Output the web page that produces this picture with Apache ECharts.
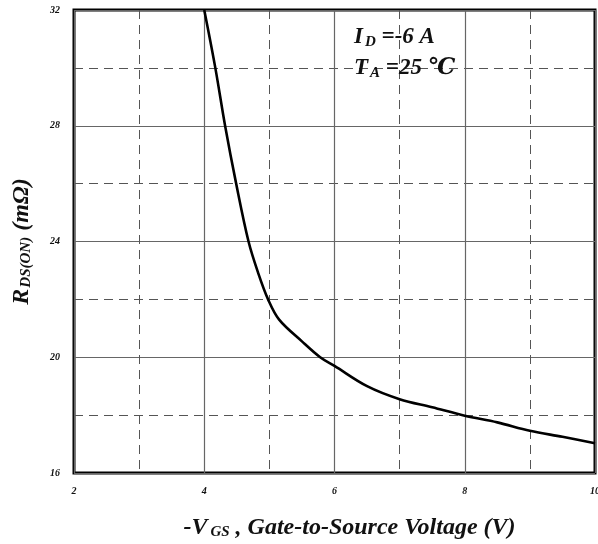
<!DOCTYPE html>
<html><head><meta charset="utf-8">
<script src="https://cdn.jsdelivr.net/npm/echarts@6/dist/echarts.min.js"></script>
<style>html,body{margin:0;padding:0;background:#fff}#c{width:598px;height:544px}</style>
</head><body><div id="c"></div>
<script>
// -V_GS (V)
const vgs = [4.0, 4.17, 4.32, 4.49, 4.68, 4.83, 4.98, 5.15, 5.5, 5.78, 6.0, 6.5, 7.0, 7.5, 8.0, 8.5, 9.0, 9.5, 10.0];
// R_DS(ON) (mΩ)
const rds = [32.0, 30.0, 28.0, 26.0, 24.0, 22.9, 22.0, 21.3, 20.55, 20.0, 19.7, 19.0, 18.55, 18.27, 17.98, 17.75, 17.46, 17.25, 17.03];
const xTicks = [2, 4, 6, 8, 10];
const yTicks = [16, 20, 24, 28, 32];

const FF = '"Liberation Serif","DejaVu Serif",serif';
const chart = echarts.init(document.getElementById('c'), null, {renderer: 'canvas'});
const tickLbl = {fontFamily: FF, fontStyle: 'italic', fontWeight: 'bold', fontSize: 10, color: '#111'};
const big = {fontFamily: FF, fontStyle: 'italic', fontWeight: 'bold', fontSize: 24, color: '#111'};
const sub = {fontFamily: FF, fontStyle: 'italic', fontWeight: 'bold', fontSize: 15, color: '#111'};
chart.setOption({
  animation: false,
  backgroundColor: '#fff',
  grid: {left: 74, top: 10, right: 3, bottom: 71, show: true, borderColor: '#000', borderWidth: 3,
         backgroundColor: 'transparent', outerBoundsMode: 'none', containLabel: false},
  xAxis: {
    type: 'value', min: xTicks[0], max: xTicks[xTicks.length - 1], interval: 2,
    axisLine: {show: false}, axisTick: {show: false},
    axisLabel: Object.assign({margin: 13}, tickLbl),
    splitLine: {show: true, lineStyle: {color: '#666', width: 1.2, type: 'solid'}},
    minorTick: {show: false, splitNumber: 2},
    minorSplitLine: {show: true, lineStyle: {color: '#555', width: 1, type: [9, 6]}},
    name: '{a|-V}{s|GS}{a| , Gate-to-Source Voltage (V)}',
    nameLocation: 'middle', nameGap: 42,
    nameTextStyle: {padding: [0, 0, 0, 30], rich: {a: big, s: Object.assign({padding: [10, 0, 0, 3]}, sub)}}
  },
  yAxis: {
    type: 'value', min: yTicks[0], max: yTicks[yTicks.length - 1], interval: 4,
    axisLine: {show: false}, axisTick: {show: false},
    axisLabel: Object.assign({margin: 14}, tickLbl),
    splitLine: {show: true, lineStyle: {color: '#666', width: 1.2, type: 'solid'}},
    minorTick: {show: false, splitNumber: 2},
    minorSplitLine: {show: true, lineStyle: {color: '#555', width: 1, type: [9, 6]}},
    name: '{a|R}{s|DS(ON)}{a| (m}{a|Ω}{a|)}',
    nameLocation: 'middle', nameGap: 40, nameRotate: 90,
    nameTextStyle: {rich: {a: big, s: Object.assign({padding: [10, 0, 0, 1]}, sub)}}
  },
  series: [{
    type: 'line', data: vgs.map((v, i) => [v, rds[i]]),
    smooth: 0.35, showSymbol: false, symbol: 'none',
    lineStyle: {color: '#000', width: 2.6}, z: 5
  }],
  graphic: [{
    type: 'text', left: 354, top: 26, z: 10,
    style: {
      text: '{a|I}{s|D}{a| =-6 A}',
      rich: {a: Object.assign({}, big, {fontSize: 23, fill: '#111'}), s: Object.assign({padding: [10, 0, 0, 2]}, sub, {fill: '#111'})}
    }
  }, {
    type: 'text', left: 354, top: 57, z: 10,
    style: {
      text: '{a|T}{s|A}{a| =25 ℃}',
      rich: {a: Object.assign({}, big, {fontSize: 23, fill: '#111'}), s: Object.assign({padding: [10, 0, 0, 2]}, sub, {fill: '#111'})}
    }
  }]
});
</script></body></html>
